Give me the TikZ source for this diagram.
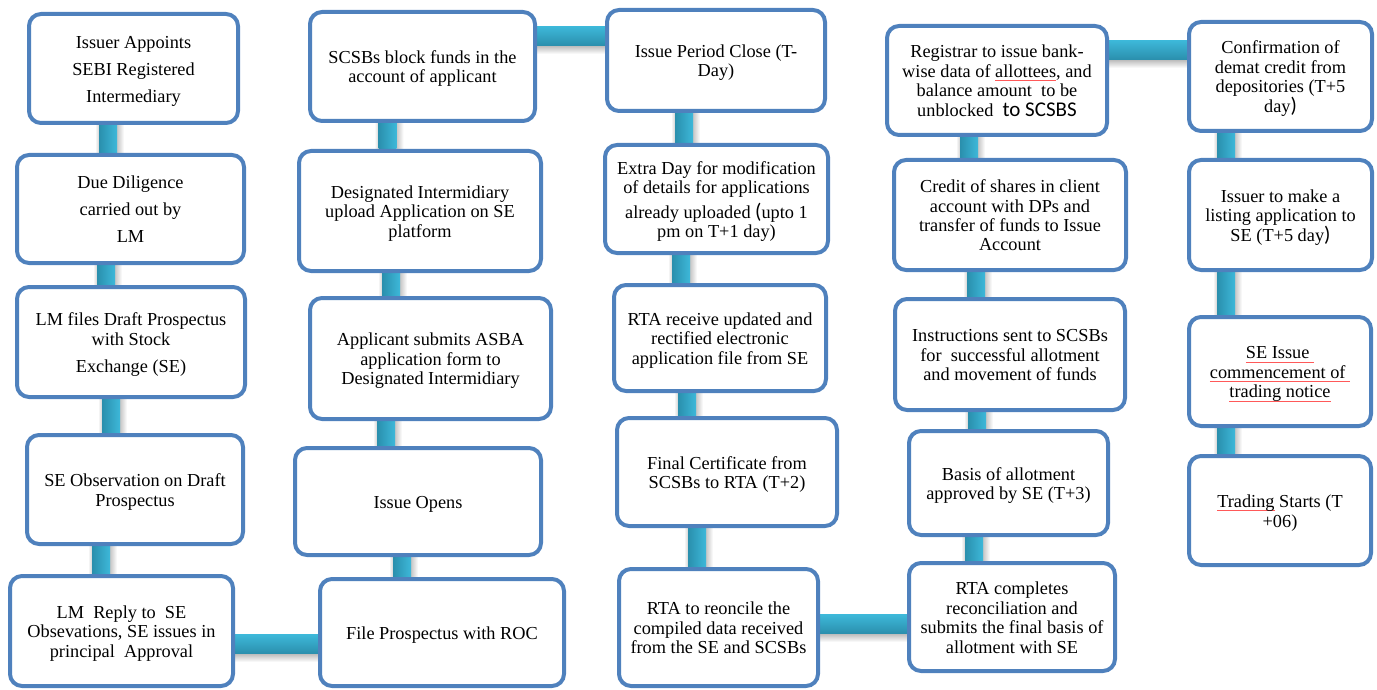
\documentclass[tikz,border=0pt]{standalone}
\usepackage{fontspec}
\setmainfont{Liberation Serif}
\newfontfamily\calib{Carlito}
\usetikzlibrary{calc}
\definecolor{boxblue}{HTML}{4F81BD}
\definecolor{barlight}{HTML}{3DB8D9}
\definecolor{bardark}{HTML}{2A8FAD}
\newsavebox\splbox
\newcommand\spl[1]{\leavevmode\sbox\splbox{#1}\rlap{\textcolor{red!65}{\rule[-3.5pt]{\wd\splbox}{0.6pt}}}\usebox\splbox}
\newcommand\bigp[1]{{\calib\fontsize{21}{19.5}\selectfont #1}}
\pgfdeclarelayer{bg}\pgfsetlayers{bg,main}
\tikzset{
  box/.style={draw=boxblue, line width=4pt, rounded corners=12pt, fill=white,
    align=center, inner sep=0pt, font=\fontsize{18.3}{19.5}\selectfont},
  vshade/.style={left color=bardark, right color=barlight},
  hshade/.style={top color=barlight, bottom color=bardark},
}
% name, cx, cy, path width, path height, text
\newcommand\bx[6]{\node[box, minimum width=#4pt, minimum height=#5pt] (#1) at (#2,#3) {\rule{0pt}{17.5pt}#6\rule[-4pt]{0pt}{0pt}};}
% vertical connector: upper node, lower node, x
\newcommand\vconn[3]{%
  \path (#3,0) coordinate (vx);
  \shade[left color=white, right color=gray!35] ($(vx |- #1.south)+(-13,0)$) rectangle ($(vx |- #2.north)+(-9,0)$);
  \shade[left color=gray!45, right color=white] ($(vx |- #1.south)+(9,0)$) rectangle ($(vx |- #2.north)+(16,0)$);
  \shade[vshade] ($(vx |- #1.south)+(-9,0)$) rectangle ($(vx |- #2.north)+(9,0)$);}
% horizontal connector: left node, right node, y
\newcommand\hconn[3]{%
  \path (0,#3) coordinate (hy);
  \shade[top color=gray!55, bottom color=white] ($(#1.east |- hy)+(0,9.5)$) rectangle ($(#2.west |- hy)+(0,18)$);
  \shade[hshade] ($(#1.east |- hy)+(0,-9.5)$) rectangle ($(#2.west |- hy)+(0,9.5)$);}
\begin{document}
\begin{tikzpicture}[x=1pt,y=-1pt]
\useasboundingbox (0,0) rectangle (1377,690);
% column 1
\bx{b1}{133.5}{68.5}{209}{109}{Issuer Appoints\\[7.5pt]SEBI Registered\\[7.5pt]Intermediary}
\bx{b2}{130.5}{209}{227}{108}{Due Diligence\\[7.5pt]carried out by\\[7.5pt]LM}
\bx{b3}{131}{342}{228}{110}{LM files Draft Prospectus\\with Stock\\[7.5pt]Exchange (SE)}
\bx{b4}{135}{489.5}{216}{109}{SE Observation on Draft\\Prospectus}
\bx{b5}{121.5}{631}{223}{110}{LM~ Reply to~ SE\\Obsevations, SE issues in\\principal~ Approval}
% column 2
\bx{b6}{422.5}{66.5}{225}{109}{SCSBs block funds in the\\account of applicant}
\bx{b7}{420}{211}{242}{120}{Designated Intermidiary\\upload Application on SE\\platform}
\bx{b8}{430.5}{358.5}{241}{121}{Applicant submits ASBA\\application form to\\Designated Intermidiary}
\bx{b9}{418}{501.5}{246}{107}{Issue Opens}
\bx{b10}{442}{632.5}{244}{107}{File Prospectus with ROC}
% column 3
\bx{b11}{716}{60.5}{218}{101}{Issue Period Close (T-\\Day)}
\bx{b12}{716.5}{199}{223}{108}{Extra Day for modification\\of details for applications\\[5pt]already uploaded \bigp{(}upto 1\\pm on T+1 day)}
\bx{b13}{720}{338}{212}{106}{RTA receive updated and\\rectified electronic\\application file from SE}
\bx{b14}{727}{472}{220}{108}{Final Certificate from\\SCSBs to RTA (T+2)}
\bx{b15}{718.5}{627.5}{199}{117}{RTA to reoncile the\\compiled data received\\from the SE and SCSBs}
% column 4
\bx{b16}{997}{80.5}{220}{109}{Registrar to issue bank-\\wise data of \spl{allottees}, and\\balance amount~ to be\\unblocked~ \bigp{to SCSBS}}
\bx{b17}{1010}{215}{232}{110}{Credit of shares in client\\account with DPs and\\transfer of funds to Issue\\Account}
\bx{b18}{1010}{354.5}{230}{111}{Instructions sent to SCSBs\\for~ successful allotment\\and movement of funds}
\bx{b19}{1008.5}{483}{199}{104}{Basis of allotment\\approved by SE (T+3)}
\bx{b20}{1012}{617}{206}{108}{RTA completes\\reconciliation and\\submits the final basis of\\allotment with SE}
% column 5
\bx{b21}{1280.5}{76.5}{183}{109}{Confirmation of\\demat credit from\\depositories (T+5\\day\bigp{)}}
\bx{b22}{1280.5}{215}{183}{110}{Issuer to make a\\listing application to\\SE (T+5 day\bigp{)}}
\bx{b23}{1280}{371.5}{182}{109}{\spl{SE Issue~}\\\spl{commencement of~}\\\spl{trading notice}}
\bx{b24}{1280}{510.5}{182}{109}{\spl{Trading} Starts (T\\+06)}
\begin{pgfonlayer}{bg}
\vconn{b1}{b2}{108}
\vconn{b2}{b3}{106}
\vconn{b3}{b4}{111}
\vconn{b4}{b5}{101}
\vconn{b6}{b7}{387.5}
\vconn{b7}{b8}{391}
\vconn{b8}{b9}{386}
\vconn{b9}{b10}{402}
\vconn{b11}{b12}{684}
\vconn{b12}{b13}{681}
\vconn{b13}{b14}{687}
\vconn{b14}{b15}{697}
\vconn{b16}{b17}{969}
\vconn{b17}{b18}{976}
\vconn{b18}{b19}{977}
\vconn{b19}{b20}{974}
\vconn{b21}{b22}{1226}
\vconn{b22}{b23}{1226}
\vconn{b23}{b24}{1226}
\hconn{b5}{b10}{644}
\hconn{b6}{b11}{36}
\hconn{b15}{b20}{624}
\hconn{b16}{b21}{50}
\end{pgfonlayer}
\end{tikzpicture}
\end{document}
